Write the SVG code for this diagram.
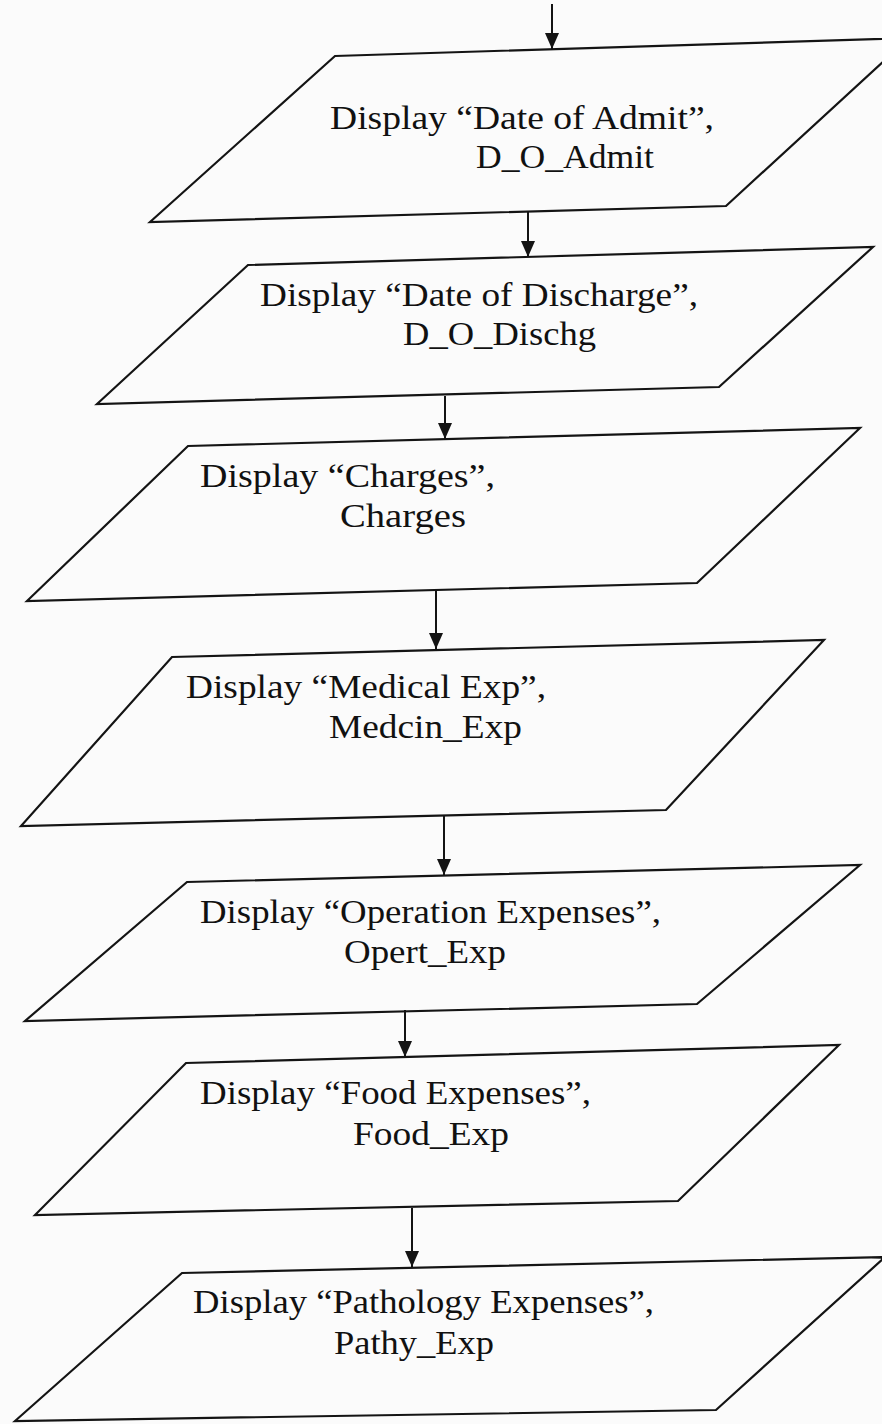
<svg xmlns="http://www.w3.org/2000/svg" width="882" height="1424" viewBox="0 0 882 1424">
<defs>
<style>
.bg{fill:#fbfbfb}
.shape{fill:none;stroke:#141414;stroke-width:2.2;stroke-linejoin:miter}
.conn{stroke:#141414;stroke-width:2}
.t{font-family:"Liberation Serif","Times New Roman",serif;font-size:34px;fill:#111}
</style>
<marker id="arr" markerUnits="userSpaceOnUse" markerWidth="17" markerHeight="15" refX="16" refY="7" orient="auto">
<path d="M0,0 L16,7 L0,14 Z" fill="#141414"/>
</marker>
</defs>
<rect class="bg" x="0" y="0" width="882" height="1424"/>
<g id="connectors">
<line class="conn" x1="552" y1="4" x2="552" y2="49" marker-end="url(#arr)"/>
<line class="conn" x1="528" y1="212" x2="528" y2="257" marker-end="url(#arr)"/>
<line class="conn" x1="445" y1="396" x2="445" y2="439" marker-end="url(#arr)"/>
<line class="conn" x1="436" y1="591" x2="436" y2="649" marker-end="url(#arr)"/>
<line class="conn" x1="444" y1="816" x2="444" y2="875" marker-end="url(#arr)"/>
<line class="conn" x1="405" y1="1010" x2="405" y2="1057" marker-end="url(#arr)"/>
<line class="conn" x1="412" y1="1208" x2="412" y2="1267" marker-end="url(#arr)"/>
</g>
<g id="n1">
<polygon class="shape" points="335,56 909,38 726,206 150,222"/>
<text class="t" x="330" y="129" textLength="384" lengthAdjust="spacingAndGlyphs">Display “Date of Admit”,</text>
<text class="t" x="476" y="168" textLength="178" lengthAdjust="spacingAndGlyphs">D_O_Admit</text>
</g>
<g id="n2">
<polygon class="shape" points="248,265 873,247 719,387 97,404"/>
<text class="t" x="260" y="306" textLength="438" lengthAdjust="spacingAndGlyphs">Display “Date of Discharge”,</text>
<text class="t" x="403" y="345" textLength="193" lengthAdjust="spacingAndGlyphs">D_O_Dischg</text>
</g>
<g id="n3">
<polygon class="shape" points="188,446 860,428 697,583 27,601"/>
<text class="t" x="200" y="487" textLength="295" lengthAdjust="spacingAndGlyphs">Display “Charges”,</text>
<text class="t" x="340" y="527" textLength="126" lengthAdjust="spacingAndGlyphs">Charges</text>
</g>
<g id="n4">
<polygon class="shape" points="172,657 824,640 666,810 21,826"/>
<text class="t" x="186" y="698" textLength="360" lengthAdjust="spacingAndGlyphs">Display “Medical Exp”,</text>
<text class="t" x="329" y="738" textLength="193" lengthAdjust="spacingAndGlyphs">Medcin_Exp</text>
</g>
<g id="n5">
<polygon class="shape" points="187,882 860,865 697,1004 25,1021"/>
<text class="t" x="200" y="923" textLength="461" lengthAdjust="spacingAndGlyphs">Display “Operation Expenses”,</text>
<text class="t" x="344" y="963" textLength="162" lengthAdjust="spacingAndGlyphs">Opert_Exp</text>
</g>
<g id="n6">
<polygon class="shape" points="186,1063 839,1045 678,1201 35,1215"/>
<text class="t" x="200" y="1104" textLength="391" lengthAdjust="spacingAndGlyphs">Display “Food Expenses”,</text>
<text class="t" x="353" y="1145" textLength="156" lengthAdjust="spacingAndGlyphs">Food_Exp</text>
</g>
<g id="n7">
<polygon class="shape" points="182,1273 885,1257 716,1410 15,1421"/>
<text class="t" x="193" y="1313" textLength="461" lengthAdjust="spacingAndGlyphs">Display “Pathology Expenses”,</text>
<text class="t" x="334" y="1354" textLength="160" lengthAdjust="spacingAndGlyphs">Pathy_Exp</text>
</g>
</svg>
